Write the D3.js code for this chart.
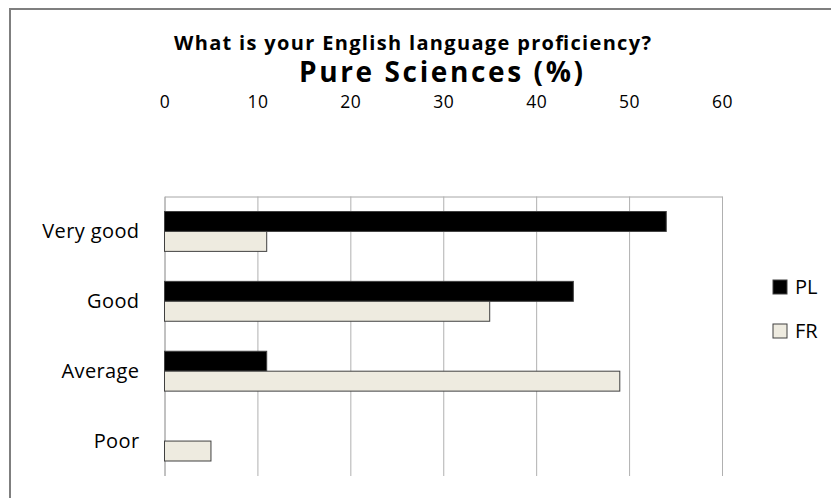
<!DOCTYPE html>
<html>
<head>
<meta charset="utf-8">
<script src="https://cdn.jsdelivr.net/npm/d3@7"></script>
<style>
  body { margin: 0; background: #fff; }
  text { font-family: "Open Sans", "Lato", sans-serif; fill: #000; }
</style>
</head>
<body>
<script>
// chart data
var categories = ["Very good", "Good", "Average", "Poor"];
var seriesNames = ["PL", "FR"];
var plValues = [54, 44, 11, 0];
var frValues = [11, 35, 49, 5];
var xTicks = [0, 10, 20, 30, 40, 50, 60];

var colors = {PL: "#000000", FR: "#eeebe0"};

var width = 831, height = 498;
var plot = {left: 164.5, right: 722, top: 196.5, bottom: 476};

var svg = d3.select("body")
    .append("svg")
        .attr("width", width)
        .attr("height", height);

svg.append("rect")
    .attr("width", width)
    .attr("height", height)
    .style("fill", "#fff");

// outer chart frame (runs off the right and bottom edges)
svg.append("rect")
    .attr("x", 10)
    .attr("y", 9)
    .attr("width", 900)
    .attr("height", 600)
    .style("fill", "none")
    .style("stroke", "#7f7f7f")
    .style("stroke-width", 2);

svg.append("text")
    .text("What is your English language proficiency?")
    .attr("x", 174)
    .attr("y", 49.5)
    .attr("textLength", 477)
    .attr("lengthAdjust", "spacing")
    .attr("font-size", "20px")
    .attr("font-weight", "bold");

svg.append("text")
    .text("Pure Sciences (%)")
    .attr("x", 299)
    .attr("y", 82)
    .attr("textLength", 284)
    .attr("lengthAdjust", "spacing")
    .attr("font-size", "28px")
    .attr("font-weight", "bold");

var x = d3.scaleLinear()
    .domain([0, 60])
    .range([plot.left, plot.right]);

var y = d3.scaleBand()
    .domain(categories)
    .range([plot.top, plot.bottom]);

var ySub = d3.scaleBand()
    .domain(seriesNames)
    .range([15, y.bandwidth() - 15]);

// top axis with gridlines running down
var xAxis = d3.axisTop(x)
    .tickValues(xTicks)
    .tickSize(-(plot.bottom - plot.top))
    .tickPadding(89)
    .tickFormat(d3.format("d"));

var gx = svg.append("g")
    .attr("transform", "translate(0," + plot.top + ")")
    .call(xAxis);

gx.select(".domain")
    .attr("stroke", "#a6a6a6");
gx.selectAll(".tick line")
    .attr("stroke", "#b0b0b0");
gx.selectAll(".tick text")
    .attr("font-size", "17.5px")
    .attr("font-family", "'Open Sans', sans-serif")
    .attr("letter-spacing", "0.5px")
    .attr("fill", "#000");

// bars
var rows = categories.map(function(c, i){
    return {cat: c, values: [
        {name: "PL", value: plValues[i]},
        {name: "FR", value: frValues[i]}
    ]};
});

var groups = svg.selectAll(".cat")
    .data(rows)
    .enter().append("g")
        .attr("class", "cat")
        .attr("transform", function(d){ return "translate(0," + y(d.cat) + ")"; });

groups.selectAll("rect")
    .data(function(d){ return d.values.filter(function(v){ return v.value > 0; }); })
    .enter().append("rect")
        .attr("x", x(0))
        .attr("y", function(d){ return ySub(d.name); })
        .attr("width", function(d){ return x(d.value) - x(0); })
        .attr("height", ySub.bandwidth())
        .style("fill", function(d){ return colors[d.name]; })
        .style("stroke", "#404040")
        .style("stroke-width", 1);

// category labels
svg.selectAll(".catLabel")
    .data(categories)
    .enter().append("text")
        .attr("class", "catLabel")
        .text(function(d){ return d; })
        .attr("x", 139.5)
        .attr("y", function(d){ return y(d) + y.bandwidth() / 2 + 6.5; })
        .attr("text-anchor", "end")
        .attr("letter-spacing", "0.4px")
        .attr("font-size", "20px");

// legend
var legend = svg.selectAll(".legend")
    .data(seriesNames)
    .enter().append("g")
        .attr("class", "legend")
        .attr("transform", function(d, i){ return "translate(773," + (280 + i * 44) + ")"; });

legend.append("rect")
    .attr("width", 14)
    .attr("height", 14)
    .style("fill", function(d){ return colors[d]; })
    .style("stroke", "#404040")
    .style("stroke-width", 1);

legend.append("text")
    .text(function(d){ return d; })
    .attr("x", 22)
    .attr("y", 13.5)
    .attr("font-size", "20px");
</script>
</body>
</html>
